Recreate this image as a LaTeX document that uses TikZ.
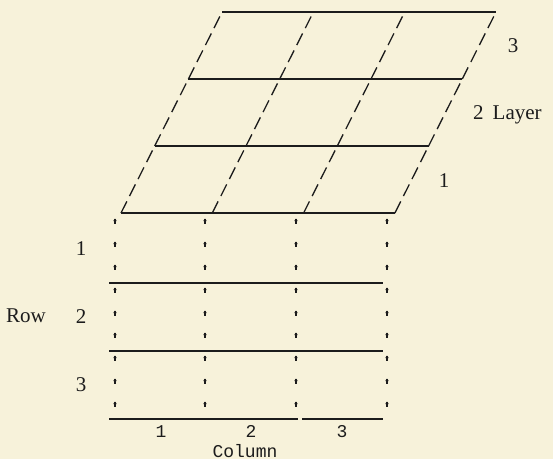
\documentclass[tikz,border=0pt]{standalone}
\usepackage{fontspec}
\setmainfont{Liberation Serif}
\setmonofont{Liberation Mono}
\definecolor{paper}{RGB}{247,242,218}
\definecolor{ink}{RGB}{28,28,28}
\begin{document}
\begin{tikzpicture}[x=1pt,y=-1pt,
  solidline/.style={line width=1.7pt, draw=ink},
  dashline/.style={line width=1.3pt, draw=ink, dash pattern=on 13pt off 6pt},
  lbl/.style={font=\fontsize{21}{21}\selectfont, text=ink, inner sep=0pt},
  ttl/.style={font=\ttfamily\fontsize{18}{18}\selectfont, text=ink, inner sep=0pt}]
\fill[paper] (0,0) rectangle (553,459);
\useasboundingbox (0,0) rectangle (553,459);
% layer planes (parallelogram)
\foreach \j in {0,...,3}
  \draw[solidline] (121+33.7*\j, 213-67*\j) -- (395+33.7*\j, 213-67*\j);
\foreach \i in {0,...,3}
  \foreach \j in {0,1,2}
    \draw[dashline] (121+91.3*\i+33.7*\j, 213-67*\j) -- ++(33.7,-67);
% front face horizontal lines
\foreach \y in {283,351}
  \draw[solidline] (109,\y) -- (383,\y);
\draw[solidline] (109,419) -- (298,419);
\draw[solidline] (302,419) -- (383,419);
% front face tick marks
\foreach \x in {115,205,296,387}
  \foreach \y in {219,242,265,288,311,333,356,379,402} {
    \draw[ink, line width=1.3pt] (\x,\y) -- (\x,\y+5);
    \fill[ink] (\x-1.7,\y+2) -- (\x,\y-0.5) -- (\x+1.7,\y+2) -- cycle;
  }
% labels
\node[lbl, anchor=base] (l3) at (513,52) {3};
\node[lbl, anchor=base west] (l2) at (473,119) {2\hspace{9pt}Layer};
\node[lbl, anchor=base] (l1) at (444,187) {1};
\node[lbl, anchor=base] (r1) at (81,255) {1};
\node[lbl, anchor=base] (r2) at (81,323) {2};
\node[lbl, anchor=base] (r3) at (81,391) {3};
\node[lbl, anchor=base west] (row) at (6,322) {Row};
\node[ttl, anchor=base] (c1) at (161,437) {1};
\node[ttl, anchor=base] (c2) at (251,437) {2};
\node[ttl, anchor=base] (c3) at (342,437) {3};
\node[ttl, anchor=base] (col) at (245,457) {Column};
\end{tikzpicture}
\end{document}
